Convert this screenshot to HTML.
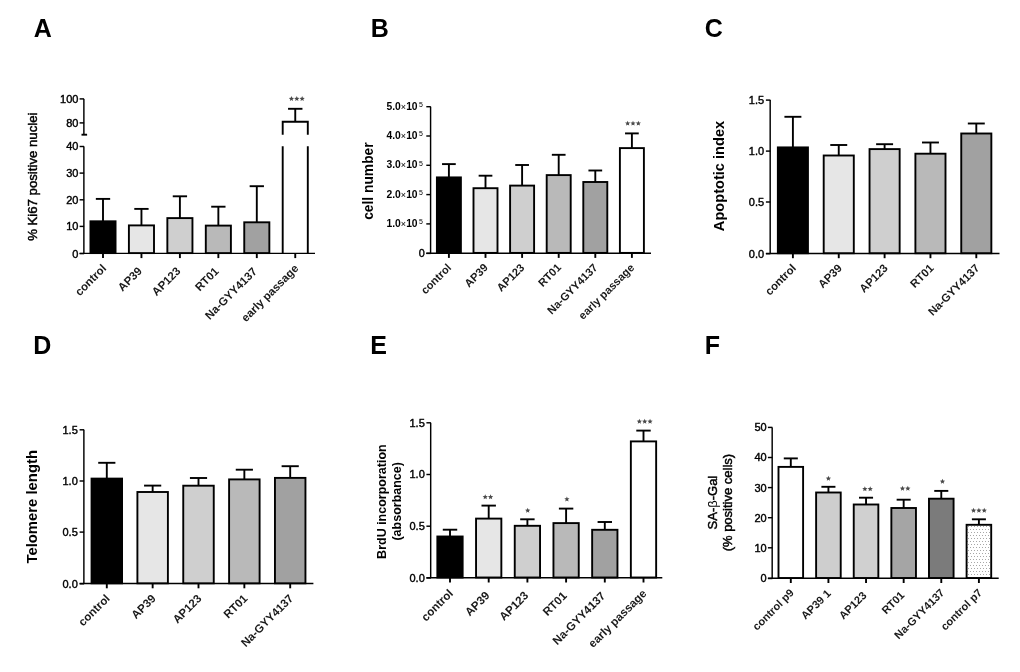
<!DOCTYPE html>
<html><head><meta charset="utf-8"><style>
html,body{margin:0;padding:0;background:#fff;}
svg{display:block;will-change:transform;font-family:"Liberation Sans",sans-serif;}
</style></head><body>
<svg width="1020" height="672" viewBox="0 0 1020 672">
<defs><pattern id="dots" width="3" height="6" patternUnits="userSpaceOnUse" x="0" y="0"><rect width="3" height="6" fill="#fff"/><rect x="1" y="1" width="1" height="1" fill="#a8a8a8"/><rect x="2" y="4" width="1" height="1" fill="#a8a8a8"/></pattern></defs>
<rect width="1020" height="672" fill="#fff"/>
<line x1="83.88" y1="98.90" x2="83.88" y2="134.70" stroke="#000" stroke-width="1.45"/>
<line x1="83.88" y1="146.50" x2="83.88" y2="253.60" stroke="#000" stroke-width="1.45"/>
<line x1="79.60" y1="98.90" x2="84.10" y2="98.90" stroke="#000" stroke-width="1.45"/>
<text x="78.40" y="102.86" font-size="11" font-weight="normal" text-anchor="end" fill="#000" stroke="#000" stroke-width="0.4">100</text>
<line x1="79.60" y1="122.90" x2="84.10" y2="122.90" stroke="#000" stroke-width="1.45"/>
<text x="78.40" y="126.86" font-size="11" font-weight="normal" text-anchor="end" fill="#000" stroke="#000" stroke-width="0.4">80</text>
<line x1="79.60" y1="146.50" x2="84.10" y2="146.50" stroke="#000" stroke-width="1.45"/>
<text x="78.40" y="150.46" font-size="11" font-weight="normal" text-anchor="end" fill="#000" stroke="#000" stroke-width="0.4">40</text>
<line x1="79.60" y1="173.10" x2="84.10" y2="173.10" stroke="#000" stroke-width="1.45"/>
<text x="78.40" y="177.06" font-size="11" font-weight="normal" text-anchor="end" fill="#000" stroke="#000" stroke-width="0.4">30</text>
<line x1="79.60" y1="199.80" x2="84.10" y2="199.80" stroke="#000" stroke-width="1.45"/>
<text x="78.40" y="203.76" font-size="11" font-weight="normal" text-anchor="end" fill="#000" stroke="#000" stroke-width="0.4">20</text>
<line x1="79.60" y1="226.40" x2="84.10" y2="226.40" stroke="#000" stroke-width="1.45"/>
<text x="78.40" y="230.36" font-size="11" font-weight="normal" text-anchor="end" fill="#000" stroke="#000" stroke-width="0.4">10</text>
<line x1="79.60" y1="253.60" x2="84.10" y2="253.60" stroke="#000" stroke-width="1.45"/>
<text x="78.40" y="257.56" font-size="11" font-weight="normal" text-anchor="end" fill="#000" stroke="#000" stroke-width="0.4">0</text>
<line x1="79.60" y1="253.35" x2="315.00" y2="253.35" stroke="#000" stroke-width="1.45"/>
<rect x="90.45" y="221.30" width="25.10" height="31.80" fill="#000" stroke="#000" stroke-width="1.9"/>
<line x1="103.00" y1="221.30" x2="103.00" y2="198.90" stroke="#000" stroke-width="1.9"/>
<line x1="95.84" y1="198.90" x2="110.16" y2="198.90" stroke="#000" stroke-width="1.9"/>
<line x1="103.00" y1="253.60" x2="103.00" y2="258.10" stroke="#000" stroke-width="1.9"/>
<rect x="128.90" y="225.40" width="25.10" height="27.70" fill="#e6e6e6" stroke="#000" stroke-width="1.9"/>
<line x1="141.45" y1="225.40" x2="141.45" y2="208.90" stroke="#000" stroke-width="1.9"/>
<line x1="134.29" y1="208.90" x2="148.60" y2="208.90" stroke="#000" stroke-width="1.9"/>
<line x1="141.45" y1="253.60" x2="141.45" y2="258.10" stroke="#000" stroke-width="1.9"/>
<rect x="167.35" y="218.10" width="25.10" height="35.00" fill="#cfcfcf" stroke="#000" stroke-width="1.9"/>
<line x1="179.90" y1="218.10" x2="179.90" y2="196.30" stroke="#000" stroke-width="1.9"/>
<line x1="172.75" y1="196.30" x2="187.06" y2="196.30" stroke="#000" stroke-width="1.9"/>
<line x1="179.90" y1="253.60" x2="179.90" y2="258.10" stroke="#000" stroke-width="1.9"/>
<rect x="205.80" y="225.60" width="25.10" height="27.50" fill="#b9b9b9" stroke="#000" stroke-width="1.9"/>
<line x1="218.35" y1="225.60" x2="218.35" y2="206.70" stroke="#000" stroke-width="1.9"/>
<line x1="211.20" y1="206.70" x2="225.51" y2="206.70" stroke="#000" stroke-width="1.9"/>
<line x1="218.35" y1="253.60" x2="218.35" y2="258.10" stroke="#000" stroke-width="1.9"/>
<rect x="244.25" y="222.30" width="25.10" height="30.80" fill="#a1a1a1" stroke="#000" stroke-width="1.9"/>
<line x1="256.80" y1="222.30" x2="256.80" y2="186.20" stroke="#000" stroke-width="1.9"/>
<line x1="249.65" y1="186.20" x2="263.95" y2="186.20" stroke="#000" stroke-width="1.9"/>
<line x1="256.80" y1="253.60" x2="256.80" y2="258.10" stroke="#000" stroke-width="1.9"/>
<text x="79.70" y="296.40" font-size="11.4" font-weight="bold" text-anchor="start" fill="#1a1a1a" transform="rotate(-45 79.70 296.40)">control</text>
<text x="122.63" y="291.92" font-size="11.4" font-weight="bold" text-anchor="start" fill="#1a1a1a" transform="rotate(-45 122.63 291.92)">AP39</text>
<text x="156.60" y="296.40" font-size="11.4" font-weight="bold" text-anchor="start" fill="#1a1a1a" transform="rotate(-45 156.60 296.40)">AP123</text>
<text x="199.68" y="291.77" font-size="11.4" font-weight="bold" text-anchor="start" fill="#1a1a1a" transform="rotate(-45 199.68 291.77)">RT01</text>
<text x="209.75" y="320.15" font-size="11.4" font-weight="bold" text-anchor="start" fill="#1a1a1a" transform="rotate(-45 209.75 320.15)">Na-GYY4137</text>
<text x="37.00" y="176.70" font-size="13.2" font-weight="normal" text-anchor="middle" fill="#000" transform="rotate(-90 37.00 176.70)" stroke="#000" stroke-width="0.45">% Ki67 positive nuclei</text>
<text x="33.70" y="37.10" font-size="25" font-weight="bold" text-anchor="start" fill="#000">A</text>
<line x1="430.58" y1="106.70" x2="430.58" y2="253.40" stroke="#000" stroke-width="1.45"/>
<line x1="426.30" y1="106.70" x2="430.80" y2="106.70" stroke="#000" stroke-width="1.45"/>
<line x1="426.30" y1="136.00" x2="430.80" y2="136.00" stroke="#000" stroke-width="1.45"/>
<line x1="426.30" y1="165.30" x2="430.80" y2="165.30" stroke="#000" stroke-width="1.45"/>
<line x1="426.30" y1="194.60" x2="430.80" y2="194.60" stroke="#000" stroke-width="1.45"/>
<line x1="426.30" y1="223.90" x2="430.80" y2="223.90" stroke="#000" stroke-width="1.45"/>
<line x1="426.30" y1="253.40" x2="430.80" y2="253.40" stroke="#000" stroke-width="1.45"/>
<text x="424.80" y="257.29" font-size="10.8" font-weight="normal" text-anchor="end" fill="#000" stroke="#000" stroke-width="0.4">0</text>
<line x1="426.30" y1="253.15" x2="651.00" y2="253.15" stroke="#000" stroke-width="1.45"/>
<rect x="436.90" y="177.40" width="24.00" height="75.50" fill="#000" stroke="#000" stroke-width="1.9"/>
<line x1="448.90" y1="177.40" x2="448.90" y2="164.10" stroke="#000" stroke-width="1.9"/>
<line x1="442.04" y1="164.10" x2="455.76" y2="164.10" stroke="#000" stroke-width="1.9"/>
<line x1="448.90" y1="253.40" x2="448.90" y2="257.90" stroke="#000" stroke-width="1.9"/>
<rect x="473.50" y="188.20" width="24.00" height="64.70" fill="#e6e6e6" stroke="#000" stroke-width="1.9"/>
<line x1="485.50" y1="188.20" x2="485.50" y2="175.70" stroke="#000" stroke-width="1.9"/>
<line x1="478.64" y1="175.70" x2="492.36" y2="175.70" stroke="#000" stroke-width="1.9"/>
<line x1="485.50" y1="253.40" x2="485.50" y2="257.90" stroke="#000" stroke-width="1.9"/>
<rect x="510.10" y="185.60" width="24.00" height="67.30" fill="#cfcfcf" stroke="#000" stroke-width="1.9"/>
<line x1="522.10" y1="185.60" x2="522.10" y2="165.00" stroke="#000" stroke-width="1.9"/>
<line x1="515.24" y1="165.00" x2="528.96" y2="165.00" stroke="#000" stroke-width="1.9"/>
<line x1="522.10" y1="253.40" x2="522.10" y2="257.90" stroke="#000" stroke-width="1.9"/>
<rect x="546.70" y="175.10" width="24.00" height="77.80" fill="#b9b9b9" stroke="#000" stroke-width="1.9"/>
<line x1="558.70" y1="175.10" x2="558.70" y2="154.80" stroke="#000" stroke-width="1.9"/>
<line x1="551.84" y1="154.80" x2="565.56" y2="154.80" stroke="#000" stroke-width="1.9"/>
<line x1="558.70" y1="253.40" x2="558.70" y2="257.90" stroke="#000" stroke-width="1.9"/>
<rect x="583.30" y="182.00" width="24.00" height="70.90" fill="#a1a1a1" stroke="#000" stroke-width="1.9"/>
<line x1="595.30" y1="182.00" x2="595.30" y2="170.50" stroke="#000" stroke-width="1.9"/>
<line x1="588.44" y1="170.50" x2="602.16" y2="170.50" stroke="#000" stroke-width="1.9"/>
<line x1="595.30" y1="253.40" x2="595.30" y2="257.90" stroke="#000" stroke-width="1.9"/>
<rect x="619.90" y="148.10" width="24.00" height="104.80" fill="#fff" stroke="#000" stroke-width="1.9"/>
<line x1="631.90" y1="148.10" x2="631.90" y2="133.40" stroke="#000" stroke-width="1.9"/>
<line x1="625.04" y1="133.40" x2="638.76" y2="133.40" stroke="#000" stroke-width="1.9"/>
<line x1="631.90" y1="253.40" x2="631.90" y2="257.90" stroke="#000" stroke-width="1.9"/>
<polygon points="627.65,120.65 628.38,122.40 630.27,122.55 628.83,123.78 629.27,125.62 627.65,124.64 626.03,125.62 626.47,123.78 625.03,122.55 626.92,122.40" fill="#4a4a4a"/>
<polygon points="633.00,120.65 633.73,122.40 635.62,122.55 634.18,123.78 634.62,125.62 633.00,124.64 631.38,125.62 631.82,123.78 630.38,122.55 632.27,122.40" fill="#4a4a4a"/>
<polygon points="638.35,120.65 639.08,122.40 640.97,122.55 639.53,123.78 639.97,125.62 638.35,124.64 636.73,125.62 637.17,123.78 635.73,122.55 637.62,122.40" fill="#4a4a4a"/>
<text x="425.45" y="294.85" font-size="11.1" font-weight="bold" text-anchor="start" fill="#1a1a1a" transform="rotate(-45 425.45 294.85)">control</text>
<text x="469.02" y="287.88" font-size="11.1" font-weight="bold" text-anchor="start" fill="#1a1a1a" transform="rotate(-45 469.02 287.88)">AP39</text>
<text x="501.25" y="292.25" font-size="11.1" font-weight="bold" text-anchor="start" fill="#1a1a1a" transform="rotate(-45 501.25 292.25)">AP123</text>
<text x="542.66" y="287.44" font-size="11.1" font-weight="bold" text-anchor="start" fill="#1a1a1a" transform="rotate(-45 542.66 287.44)">RT01</text>
<text x="551.77" y="314.93" font-size="11.1" font-weight="bold" text-anchor="start" fill="#1a1a1a" transform="rotate(-45 551.77 314.93)">Na-GYY4137</text>
<text x="583.12" y="320.18" font-size="11.1" font-weight="bold" text-anchor="start" fill="#1a1a1a" transform="rotate(-45 583.12 320.18)">early passage</text>
<text x="372.90" y="181.10" font-size="13.8" font-weight="bold" text-anchor="middle" fill="#000" transform="rotate(-90 372.90 181.10)">cell number</text>
<text x="370.70" y="36.80" font-size="25" font-weight="bold" text-anchor="start" fill="#000">B</text>
<line x1="770.18" y1="100.10" x2="770.18" y2="253.70" stroke="#000" stroke-width="1.45"/>
<line x1="765.90" y1="100.10" x2="770.40" y2="100.10" stroke="#000" stroke-width="1.45"/>
<text x="764.10" y="104.06" font-size="11" font-weight="normal" text-anchor="end" fill="#000" stroke="#000" stroke-width="0.4">1.5</text>
<line x1="765.90" y1="151.10" x2="770.40" y2="151.10" stroke="#000" stroke-width="1.45"/>
<text x="764.10" y="155.06" font-size="11" font-weight="normal" text-anchor="end" fill="#000" stroke="#000" stroke-width="0.4">1.0</text>
<line x1="765.90" y1="202.00" x2="770.40" y2="202.00" stroke="#000" stroke-width="1.45"/>
<text x="764.10" y="205.96" font-size="11" font-weight="normal" text-anchor="end" fill="#000" stroke="#000" stroke-width="0.4">0.5</text>
<line x1="765.90" y1="253.70" x2="770.40" y2="253.70" stroke="#000" stroke-width="1.45"/>
<text x="764.10" y="257.66" font-size="11" font-weight="normal" text-anchor="end" fill="#000" stroke="#000" stroke-width="0.4">0.0</text>
<line x1="765.90" y1="253.45" x2="999.50" y2="253.45" stroke="#000" stroke-width="1.45"/>
<rect x="777.85" y="147.40" width="30.10" height="105.80" fill="#000" stroke="#000" stroke-width="1.9"/>
<line x1="792.90" y1="147.40" x2="792.90" y2="116.80" stroke="#000" stroke-width="1.9"/>
<line x1="784.42" y1="116.80" x2="801.38" y2="116.80" stroke="#000" stroke-width="1.9"/>
<line x1="792.90" y1="253.70" x2="792.90" y2="258.20" stroke="#000" stroke-width="1.9"/>
<rect x="823.70" y="155.50" width="30.10" height="97.70" fill="#e6e6e6" stroke="#000" stroke-width="1.9"/>
<line x1="838.75" y1="155.50" x2="838.75" y2="145.00" stroke="#000" stroke-width="1.9"/>
<line x1="830.27" y1="145.00" x2="847.23" y2="145.00" stroke="#000" stroke-width="1.9"/>
<line x1="838.75" y1="253.70" x2="838.75" y2="258.20" stroke="#000" stroke-width="1.9"/>
<rect x="869.55" y="149.10" width="30.10" height="104.10" fill="#cfcfcf" stroke="#000" stroke-width="1.9"/>
<line x1="884.60" y1="149.10" x2="884.60" y2="144.20" stroke="#000" stroke-width="1.9"/>
<line x1="876.12" y1="144.20" x2="893.08" y2="144.20" stroke="#000" stroke-width="1.9"/>
<line x1="884.60" y1="253.70" x2="884.60" y2="258.20" stroke="#000" stroke-width="1.9"/>
<rect x="915.40" y="153.70" width="30.10" height="99.50" fill="#b9b9b9" stroke="#000" stroke-width="1.9"/>
<line x1="930.45" y1="153.70" x2="930.45" y2="142.50" stroke="#000" stroke-width="1.9"/>
<line x1="921.97" y1="142.50" x2="938.93" y2="142.50" stroke="#000" stroke-width="1.9"/>
<line x1="930.45" y1="253.70" x2="930.45" y2="258.20" stroke="#000" stroke-width="1.9"/>
<rect x="961.25" y="133.50" width="30.10" height="119.70" fill="#a1a1a1" stroke="#000" stroke-width="1.9"/>
<line x1="976.30" y1="133.50" x2="976.30" y2="123.50" stroke="#000" stroke-width="1.9"/>
<line x1="967.82" y1="123.50" x2="984.78" y2="123.50" stroke="#000" stroke-width="1.9"/>
<line x1="976.30" y1="253.70" x2="976.30" y2="258.20" stroke="#000" stroke-width="1.9"/>
<text x="769.76" y="295.92" font-size="11.3" font-weight="bold" text-anchor="start" fill="#1a1a1a" transform="rotate(-45 769.76 295.92)">control</text>
<text x="822.70" y="288.83" font-size="11.3" font-weight="bold" text-anchor="start" fill="#1a1a1a" transform="rotate(-45 822.70 288.83)">AP39</text>
<text x="864.11" y="293.27" font-size="11.3" font-weight="bold" text-anchor="start" fill="#1a1a1a" transform="rotate(-45 864.11 293.27)">AP123</text>
<text x="914.85" y="288.38" font-size="11.3" font-weight="bold" text-anchor="start" fill="#1a1a1a" transform="rotate(-45 914.85 288.38)">RT01</text>
<text x="932.71" y="316.37" font-size="11.3" font-weight="bold" text-anchor="start" fill="#1a1a1a" transform="rotate(-45 932.71 316.37)">Na-GYY4137</text>
<text x="723.70" y="176.00" font-size="14.6" font-weight="bold" text-anchor="middle" fill="#000" transform="rotate(-90 723.70 176.00)">Apoptotic index</text>
<text x="704.80" y="37.00" font-size="25" font-weight="bold" text-anchor="start" fill="#000">C</text>
<line x1="83.88" y1="429.80" x2="83.88" y2="583.80" stroke="#000" stroke-width="1.45"/>
<line x1="79.60" y1="429.80" x2="84.10" y2="429.80" stroke="#000" stroke-width="1.45"/>
<text x="77.80" y="433.76" font-size="11" font-weight="normal" text-anchor="end" fill="#000" stroke="#000" stroke-width="0.4">1.5</text>
<line x1="79.60" y1="481.00" x2="84.10" y2="481.00" stroke="#000" stroke-width="1.45"/>
<text x="77.80" y="484.96" font-size="11" font-weight="normal" text-anchor="end" fill="#000" stroke="#000" stroke-width="0.4">1.0</text>
<line x1="79.60" y1="532.10" x2="84.10" y2="532.10" stroke="#000" stroke-width="1.45"/>
<text x="77.80" y="536.06" font-size="11" font-weight="normal" text-anchor="end" fill="#000" stroke="#000" stroke-width="0.4">0.5</text>
<line x1="79.60" y1="583.80" x2="84.10" y2="583.80" stroke="#000" stroke-width="1.45"/>
<text x="77.80" y="587.76" font-size="11" font-weight="normal" text-anchor="end" fill="#000" stroke="#000" stroke-width="0.4">0.0</text>
<line x1="79.60" y1="583.55" x2="313.40" y2="583.55" stroke="#000" stroke-width="1.45"/>
<rect x="91.55" y="478.60" width="30.50" height="104.70" fill="#000" stroke="#000" stroke-width="1.9"/>
<line x1="106.80" y1="478.60" x2="106.80" y2="462.80" stroke="#000" stroke-width="1.9"/>
<line x1="98.21" y1="462.80" x2="115.39" y2="462.80" stroke="#000" stroke-width="1.9"/>
<line x1="106.80" y1="583.80" x2="106.80" y2="588.30" stroke="#000" stroke-width="1.9"/>
<rect x="137.40" y="492.00" width="30.50" height="91.30" fill="#e6e6e6" stroke="#000" stroke-width="1.9"/>
<line x1="152.65" y1="492.00" x2="152.65" y2="485.60" stroke="#000" stroke-width="1.9"/>
<line x1="144.06" y1="485.60" x2="161.24" y2="485.60" stroke="#000" stroke-width="1.9"/>
<line x1="152.65" y1="583.80" x2="152.65" y2="588.30" stroke="#000" stroke-width="1.9"/>
<rect x="183.25" y="485.70" width="30.50" height="97.60" fill="#cfcfcf" stroke="#000" stroke-width="1.9"/>
<line x1="198.50" y1="485.70" x2="198.50" y2="478.00" stroke="#000" stroke-width="1.9"/>
<line x1="189.91" y1="478.00" x2="207.09" y2="478.00" stroke="#000" stroke-width="1.9"/>
<line x1="198.50" y1="583.80" x2="198.50" y2="588.30" stroke="#000" stroke-width="1.9"/>
<rect x="229.10" y="479.40" width="30.50" height="103.90" fill="#b9b9b9" stroke="#000" stroke-width="1.9"/>
<line x1="244.35" y1="479.40" x2="244.35" y2="469.70" stroke="#000" stroke-width="1.9"/>
<line x1="235.76" y1="469.70" x2="252.94" y2="469.70" stroke="#000" stroke-width="1.9"/>
<line x1="244.35" y1="583.80" x2="244.35" y2="588.30" stroke="#000" stroke-width="1.9"/>
<rect x="274.95" y="477.90" width="30.50" height="105.40" fill="#a1a1a1" stroke="#000" stroke-width="1.9"/>
<line x1="290.20" y1="477.90" x2="290.20" y2="466.20" stroke="#000" stroke-width="1.9"/>
<line x1="281.61" y1="466.20" x2="298.79" y2="466.20" stroke="#000" stroke-width="1.9"/>
<line x1="290.20" y1="583.80" x2="290.20" y2="588.30" stroke="#000" stroke-width="1.9"/>
<text x="83.07" y="626.73" font-size="11.5" font-weight="bold" text-anchor="start" fill="#1a1a1a" transform="rotate(-45 83.07 626.73)">control</text>
<text x="136.14" y="619.51" font-size="11.5" font-weight="bold" text-anchor="start" fill="#1a1a1a" transform="rotate(-45 136.14 619.51)">AP39</text>
<text x="177.47" y="624.03" font-size="11.5" font-weight="bold" text-anchor="start" fill="#1a1a1a" transform="rotate(-45 177.47 624.03)">AP123</text>
<text x="228.30" y="619.05" font-size="11.5" font-weight="bold" text-anchor="start" fill="#1a1a1a" transform="rotate(-45 228.30 619.05)">RT01</text>
<text x="245.66" y="647.54" font-size="11.5" font-weight="bold" text-anchor="start" fill="#1a1a1a" transform="rotate(-45 245.66 647.54)">Na-GYY4137</text>
<text x="37.30" y="506.80" font-size="14.85" font-weight="bold" text-anchor="middle" fill="#000" transform="rotate(-90 37.30 506.80)">Telomere length</text>
<text x="33.30" y="354.40" font-size="25" font-weight="bold" text-anchor="start" fill="#000">D</text>
<line x1="430.68" y1="422.80" x2="430.68" y2="578.00" stroke="#000" stroke-width="1.45"/>
<line x1="426.40" y1="422.80" x2="430.90" y2="422.80" stroke="#000" stroke-width="1.45"/>
<text x="424.80" y="426.76" font-size="11" font-weight="normal" text-anchor="end" fill="#000" stroke="#000" stroke-width="0.4">1.5</text>
<line x1="426.40" y1="474.50" x2="430.90" y2="474.50" stroke="#000" stroke-width="1.45"/>
<text x="424.80" y="478.46" font-size="11" font-weight="normal" text-anchor="end" fill="#000" stroke="#000" stroke-width="0.4">1.0</text>
<line x1="426.40" y1="526.20" x2="430.90" y2="526.20" stroke="#000" stroke-width="1.45"/>
<text x="424.80" y="530.16" font-size="11" font-weight="normal" text-anchor="end" fill="#000" stroke="#000" stroke-width="0.4">0.5</text>
<line x1="426.40" y1="578.00" x2="430.90" y2="578.00" stroke="#000" stroke-width="1.45"/>
<text x="424.80" y="581.96" font-size="11" font-weight="normal" text-anchor="end" fill="#000" stroke="#000" stroke-width="0.4">0.0</text>
<line x1="426.40" y1="577.75" x2="662.30" y2="577.75" stroke="#000" stroke-width="1.45"/>
<rect x="437.35" y="536.50" width="25.30" height="41.00" fill="#000" stroke="#000" stroke-width="1.9"/>
<line x1="450.00" y1="536.50" x2="450.00" y2="529.70" stroke="#000" stroke-width="1.9"/>
<line x1="442.79" y1="529.70" x2="457.21" y2="529.70" stroke="#000" stroke-width="1.9"/>
<line x1="450.00" y1="578.00" x2="450.00" y2="582.50" stroke="#000" stroke-width="1.9"/>
<rect x="476.05" y="518.60" width="25.30" height="58.90" fill="#e6e6e6" stroke="#000" stroke-width="1.9"/>
<line x1="488.70" y1="518.60" x2="488.70" y2="505.60" stroke="#000" stroke-width="1.9"/>
<line x1="481.49" y1="505.60" x2="495.91" y2="505.60" stroke="#000" stroke-width="1.9"/>
<line x1="488.70" y1="578.00" x2="488.70" y2="582.50" stroke="#000" stroke-width="1.9"/>
<rect x="514.75" y="525.80" width="25.30" height="51.70" fill="#cfcfcf" stroke="#000" stroke-width="1.9"/>
<line x1="527.40" y1="525.80" x2="527.40" y2="519.30" stroke="#000" stroke-width="1.9"/>
<line x1="520.19" y1="519.30" x2="534.61" y2="519.30" stroke="#000" stroke-width="1.9"/>
<line x1="527.40" y1="578.00" x2="527.40" y2="582.50" stroke="#000" stroke-width="1.9"/>
<rect x="553.45" y="523.10" width="25.30" height="54.40" fill="#b9b9b9" stroke="#000" stroke-width="1.9"/>
<line x1="566.10" y1="523.10" x2="566.10" y2="508.60" stroke="#000" stroke-width="1.9"/>
<line x1="558.89" y1="508.60" x2="573.31" y2="508.60" stroke="#000" stroke-width="1.9"/>
<line x1="566.10" y1="578.00" x2="566.10" y2="582.50" stroke="#000" stroke-width="1.9"/>
<rect x="592.15" y="529.80" width="25.30" height="47.70" fill="#a1a1a1" stroke="#000" stroke-width="1.9"/>
<line x1="604.80" y1="529.80" x2="604.80" y2="522.00" stroke="#000" stroke-width="1.9"/>
<line x1="597.59" y1="522.00" x2="612.01" y2="522.00" stroke="#000" stroke-width="1.9"/>
<line x1="604.80" y1="578.00" x2="604.80" y2="582.50" stroke="#000" stroke-width="1.9"/>
<rect x="630.85" y="441.40" width="25.30" height="136.10" fill="#fff" stroke="#000" stroke-width="1.9"/>
<line x1="643.50" y1="441.40" x2="643.50" y2="430.60" stroke="#000" stroke-width="1.9"/>
<line x1="636.29" y1="430.60" x2="650.71" y2="430.60" stroke="#000" stroke-width="1.9"/>
<line x1="643.50" y1="578.00" x2="643.50" y2="582.50" stroke="#000" stroke-width="1.9"/>
<polygon points="485.22,494.25 485.95,496.00 487.84,496.15 486.40,497.38 486.84,499.22 485.22,498.24 483.61,499.22 484.05,497.38 482.61,496.15 484.50,496.00" fill="#4a4a4a"/>
<polygon points="490.57,494.25 491.30,496.00 493.19,496.15 491.75,497.38 492.19,499.22 490.57,498.24 488.96,499.22 489.40,497.38 487.96,496.15 489.85,496.00" fill="#4a4a4a"/>
<polygon points="527.70,507.75 528.43,509.50 530.32,509.65 528.88,510.88 529.32,512.72 527.70,511.74 526.08,512.72 526.52,510.88 525.08,509.65 526.97,509.50" fill="#4a4a4a"/>
<polygon points="566.90,496.45 567.63,498.20 569.52,498.35 568.08,499.58 568.52,501.42 566.90,500.44 565.28,501.42 565.72,499.58 564.28,498.35 566.17,498.20" fill="#4a4a4a"/>
<polygon points="639.35,418.85 640.08,420.60 641.97,420.75 640.53,421.98 640.97,423.82 639.35,422.84 637.73,423.82 638.17,421.98 636.73,420.75 638.62,420.60" fill="#4a4a4a"/>
<polygon points="644.70,418.85 645.43,420.60 647.32,420.75 645.88,421.98 646.32,423.82 644.70,422.84 643.08,423.82 643.52,421.98 642.08,420.75 643.97,420.60" fill="#4a4a4a"/>
<polygon points="650.05,418.85 650.78,420.60 652.67,420.75 651.23,421.98 651.67,423.82 650.05,422.84 648.43,423.82 648.87,421.98 647.43,420.75 649.32,420.60" fill="#4a4a4a"/>
<text x="426.06" y="621.90" font-size="11.6" font-weight="bold" text-anchor="start" fill="#1a1a1a" transform="rotate(-45 426.06 621.90)">control</text>
<text x="469.86" y="616.80" font-size="11.6" font-weight="bold" text-anchor="start" fill="#1a1a1a" transform="rotate(-45 469.86 616.80)">AP39</text>
<text x="504.00" y="621.36" font-size="11.6" font-weight="bold" text-anchor="start" fill="#1a1a1a" transform="rotate(-45 504.00 621.36)">AP123</text>
<text x="547.48" y="616.58" font-size="11.6" font-weight="bold" text-anchor="start" fill="#1a1a1a" transform="rotate(-45 547.48 616.58)">RT01</text>
<text x="557.33" y="645.43" font-size="11.6" font-weight="bold" text-anchor="start" fill="#1a1a1a" transform="rotate(-45 557.33 645.43)">Na-GYY4137</text>
<text x="593.11" y="648.35" font-size="11.6" font-weight="bold" text-anchor="start" fill="#1a1a1a" transform="rotate(-45 593.11 648.35)">early passage</text>
<text x="385.80" y="501.60" font-size="12.5" font-weight="bold" text-anchor="middle" fill="#000" transform="rotate(-90 385.80 501.60)">BrdU incorporation</text>
<text x="401.20" y="501.30" font-size="12.5" font-weight="bold" text-anchor="middle" fill="#000" transform="rotate(-90 401.20 501.30)">(absorbance)</text>
<text x="370.30" y="354.40" font-size="25" font-weight="bold" text-anchor="start" fill="#000">E</text>
<line x1="772.18" y1="427.40" x2="772.18" y2="578.50" stroke="#000" stroke-width="1.45"/>
<line x1="767.90" y1="427.40" x2="772.40" y2="427.40" stroke="#000" stroke-width="1.45"/>
<text x="766.70" y="431.36" font-size="11" font-weight="normal" text-anchor="end" fill="#000" stroke="#000" stroke-width="0.4">50</text>
<line x1="767.90" y1="457.50" x2="772.40" y2="457.50" stroke="#000" stroke-width="1.45"/>
<text x="766.70" y="461.46" font-size="11" font-weight="normal" text-anchor="end" fill="#000" stroke="#000" stroke-width="0.4">40</text>
<line x1="767.90" y1="487.60" x2="772.40" y2="487.60" stroke="#000" stroke-width="1.45"/>
<text x="766.70" y="491.56" font-size="11" font-weight="normal" text-anchor="end" fill="#000" stroke="#000" stroke-width="0.4">30</text>
<line x1="767.90" y1="517.70" x2="772.40" y2="517.70" stroke="#000" stroke-width="1.45"/>
<text x="766.70" y="521.66" font-size="11" font-weight="normal" text-anchor="end" fill="#000" stroke="#000" stroke-width="0.4">20</text>
<line x1="767.90" y1="547.80" x2="772.40" y2="547.80" stroke="#000" stroke-width="1.45"/>
<text x="766.70" y="551.76" font-size="11" font-weight="normal" text-anchor="end" fill="#000" stroke="#000" stroke-width="0.4">10</text>
<line x1="767.90" y1="578.50" x2="772.40" y2="578.50" stroke="#000" stroke-width="1.45"/>
<text x="766.70" y="582.46" font-size="11" font-weight="normal" text-anchor="end" fill="#000" stroke="#000" stroke-width="0.4">0</text>
<line x1="767.90" y1="578.25" x2="998.70" y2="578.25" stroke="#000" stroke-width="1.45"/>
<rect x="778.50" y="466.90" width="24.60" height="111.10" fill="#fff" stroke="#000" stroke-width="1.9"/>
<line x1="790.80" y1="466.90" x2="790.80" y2="458.40" stroke="#000" stroke-width="1.9"/>
<line x1="783.78" y1="458.40" x2="797.82" y2="458.40" stroke="#000" stroke-width="1.9"/>
<line x1="790.80" y1="578.50" x2="790.80" y2="583.00" stroke="#000" stroke-width="1.9"/>
<rect x="816.12" y="492.50" width="24.60" height="85.50" fill="#cecece" stroke="#000" stroke-width="1.9"/>
<line x1="828.42" y1="492.50" x2="828.42" y2="486.80" stroke="#000" stroke-width="1.9"/>
<line x1="821.40" y1="486.80" x2="835.44" y2="486.80" stroke="#000" stroke-width="1.9"/>
<line x1="828.42" y1="578.50" x2="828.42" y2="583.00" stroke="#000" stroke-width="1.9"/>
<rect x="853.74" y="504.50" width="24.60" height="73.50" fill="#d0d0d0" stroke="#000" stroke-width="1.9"/>
<line x1="866.04" y1="504.50" x2="866.04" y2="497.70" stroke="#000" stroke-width="1.9"/>
<line x1="859.02" y1="497.70" x2="873.06" y2="497.70" stroke="#000" stroke-width="1.9"/>
<line x1="866.04" y1="578.50" x2="866.04" y2="583.00" stroke="#000" stroke-width="1.9"/>
<rect x="891.36" y="508.00" width="24.60" height="70.00" fill="#a5a5a5" stroke="#000" stroke-width="1.9"/>
<line x1="903.66" y1="508.00" x2="903.66" y2="499.70" stroke="#000" stroke-width="1.9"/>
<line x1="896.64" y1="499.70" x2="910.68" y2="499.70" stroke="#000" stroke-width="1.9"/>
<line x1="903.66" y1="578.50" x2="903.66" y2="583.00" stroke="#000" stroke-width="1.9"/>
<rect x="928.98" y="498.70" width="24.60" height="79.30" fill="#7b7b7b" stroke="#000" stroke-width="1.9"/>
<line x1="941.28" y1="498.70" x2="941.28" y2="490.90" stroke="#000" stroke-width="1.9"/>
<line x1="934.26" y1="490.90" x2="948.30" y2="490.90" stroke="#000" stroke-width="1.9"/>
<line x1="941.28" y1="578.50" x2="941.28" y2="583.00" stroke="#000" stroke-width="1.9"/>
<rect x="966.60" y="524.80" width="24.60" height="53.20" fill="url(#dots)" stroke="#000" stroke-width="1.9"/>
<line x1="978.90" y1="524.80" x2="978.90" y2="519.30" stroke="#000" stroke-width="1.9"/>
<line x1="971.88" y1="519.30" x2="985.92" y2="519.30" stroke="#000" stroke-width="1.9"/>
<line x1="978.90" y1="578.50" x2="978.90" y2="583.00" stroke="#000" stroke-width="1.9"/>
<polygon points="828.42,475.75 829.15,477.50 831.04,477.65 829.60,478.88 830.04,480.72 828.42,479.74 826.80,480.72 827.24,478.88 825.80,477.65 827.69,477.50" fill="#4a4a4a"/>
<polygon points="864.87,486.25 865.59,488.00 867.48,488.15 866.04,489.38 866.48,491.22 864.87,490.24 863.25,491.22 863.69,489.38 862.25,488.15 864.14,488.00" fill="#4a4a4a"/>
<polygon points="870.22,486.25 870.94,488.00 872.83,488.15 871.39,489.38 871.83,491.22 870.22,490.24 868.60,491.22 869.04,489.38 867.60,488.15 869.49,488.00" fill="#4a4a4a"/>
<polygon points="902.49,485.75 903.21,487.50 905.10,487.65 903.66,488.88 904.10,490.72 902.49,489.74 900.87,490.72 901.31,488.88 899.87,487.65 901.76,487.50" fill="#4a4a4a"/>
<polygon points="907.84,485.75 908.56,487.50 910.45,487.65 909.01,488.88 909.45,490.72 907.84,489.74 906.22,490.72 906.66,488.88 905.22,487.65 907.11,487.50" fill="#4a4a4a"/>
<polygon points="942.48,478.85 943.21,480.60 945.10,480.75 943.66,481.98 944.10,483.82 942.48,482.84 940.86,483.82 941.30,481.98 939.86,480.75 941.75,480.60" fill="#4a4a4a"/>
<polygon points="973.55,507.85 974.28,509.60 976.17,509.75 974.73,510.98 975.17,512.82 973.55,511.84 971.93,512.82 972.37,510.98 970.93,509.75 972.82,509.60" fill="#4a4a4a"/>
<polygon points="978.90,507.85 979.63,509.60 981.52,509.75 980.08,510.98 980.52,512.82 978.90,511.84 977.28,512.82 977.72,510.98 976.28,509.75 978.17,509.60" fill="#4a4a4a"/>
<polygon points="984.25,507.85 984.98,509.60 986.87,509.75 985.43,510.98 985.87,512.82 984.25,511.84 982.63,512.82 983.07,510.98 981.63,509.75 983.52,509.60" fill="#4a4a4a"/>
<text x="757.07" y="631.07" font-size="11.0" font-weight="bold" text-anchor="start" fill="#1a1a1a" transform="rotate(-45 757.07 631.07)">control p9</text>
<text x="805.64" y="620.12" font-size="11.0" font-weight="bold" text-anchor="start" fill="#1a1a1a" transform="rotate(-45 805.64 620.12)">AP39 1</text>
<text x="843.44" y="619.94" font-size="11.0" font-weight="bold" text-anchor="start" fill="#1a1a1a" transform="rotate(-45 843.44 619.94)">AP123</text>
<text x="886.18" y="614.82" font-size="11.0" font-weight="bold" text-anchor="start" fill="#1a1a1a" transform="rotate(-45 886.18 614.82)">RT01</text>
<text x="898.89" y="639.73" font-size="11.0" font-weight="bold" text-anchor="start" fill="#1a1a1a" transform="rotate(-45 898.89 639.73)">Na-GYY4137</text>
<text x="945.17" y="631.07" font-size="11.0" font-weight="bold" text-anchor="start" fill="#1a1a1a" transform="rotate(-45 945.17 631.07)">control p7</text>
<text x="717.00" y="502.60" font-size="13" font-weight="normal" text-anchor="middle" fill="#000" transform="rotate(-90 717.00 502.60)" stroke="#000" stroke-width="0.45">SA-<tspan stroke-width="0">&#946;</tspan>-Gal</text>
<text x="732.00" y="502.60" font-size="13" font-weight="normal" text-anchor="middle" fill="#000" transform="rotate(-90 732.00 502.60)" stroke="#000" stroke-width="0.45">(% positive cells)</text>
<text x="704.80" y="354.40" font-size="25" font-weight="bold" text-anchor="start" fill="#000">F</text>
<path d="M282.70,134.70 V121.80 H307.80 V134.70" fill="#fff" stroke="#000" stroke-width="1.9"/>
<path d="M282.70,146.20 V253.60 M307.80,146.20 V253.60" fill="none" stroke="#000" stroke-width="1.9"/>
<line x1="295.25" y1="121.80" x2="295.25" y2="108.80" stroke="#000" stroke-width="1.9"/>
<line x1="288.05" y1="108.80" x2="302.45" y2="108.80" stroke="#000" stroke-width="1.9"/>
<line x1="295.25" y1="253.60" x2="295.25" y2="258.10" stroke="#000" stroke-width="1.9"/>
<polygon points="291.45,96.05 292.18,97.80 294.07,97.95 292.63,99.18 293.07,101.02 291.45,100.04 289.83,101.02 290.27,99.18 288.83,97.95 290.72,97.80" fill="#4a4a4a"/>
<polygon points="296.80,96.05 297.53,97.80 299.42,97.95 297.98,99.18 298.42,101.02 296.80,100.04 295.18,101.02 295.62,99.18 294.18,97.95 296.07,97.80" fill="#4a4a4a"/>
<polygon points="302.15,96.05 302.88,97.80 304.77,97.95 303.33,99.18 303.77,101.02 302.15,100.04 300.53,101.02 300.97,99.18 299.53,97.95 301.42,97.80" fill="#4a4a4a"/>
<line x1="81.50" y1="134.70" x2="87.10" y2="134.70" stroke="#000" stroke-width="1.9"/>
<text x="245.96" y="322.39" font-size="11.4" font-weight="bold" text-anchor="start" fill="#1a1a1a" transform="rotate(-45 245.96 322.39)">early passage</text>
<text x="423.0" y="109.80" font-size="10.3" text-anchor="end" letter-spacing="0"><tspan font-weight="bold">5.0</tspan><tspan font-size="9">&#215;</tspan><tspan font-weight="bold">10</tspan><tspan font-size="7" dy="-2.7" dx="1.5">5</tspan></text>
<text x="423.0" y="139.10" font-size="10.3" text-anchor="end" letter-spacing="0"><tspan font-weight="bold">4.0</tspan><tspan font-size="9">&#215;</tspan><tspan font-weight="bold">10</tspan><tspan font-size="7" dy="-2.7" dx="1.5">5</tspan></text>
<text x="423.0" y="168.40" font-size="10.3" text-anchor="end" letter-spacing="0"><tspan font-weight="bold">3.0</tspan><tspan font-size="9">&#215;</tspan><tspan font-weight="bold">10</tspan><tspan font-size="7" dy="-2.7" dx="1.5">5</tspan></text>
<text x="423.0" y="197.70" font-size="10.3" text-anchor="end" letter-spacing="0"><tspan font-weight="bold">2.0</tspan><tspan font-size="9">&#215;</tspan><tspan font-weight="bold">10</tspan><tspan font-size="7" dy="-2.7" dx="1.5">5</tspan></text>
<text x="423.0" y="227.00" font-size="10.3" text-anchor="end" letter-spacing="0"><tspan font-weight="bold">1.0</tspan><tspan font-size="9">&#215;</tspan><tspan font-weight="bold">10</tspan><tspan font-size="7" dy="-2.7" dx="1.5">5</tspan></text>
</svg>
</body></html>
